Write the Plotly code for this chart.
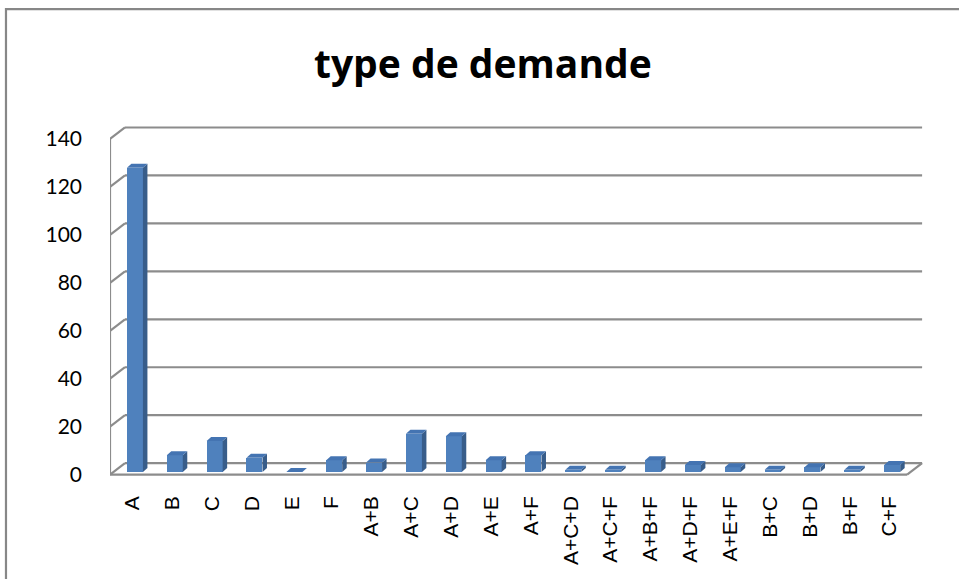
import plotly.graph_objects as go

categories = ["A", "B", "C", "D", "E", "F", "A+B", "A+C", "A+D", "A+E", "A+F",
              "A+C+D", "A+C+F", "A+B+F", "A+D+F", "A+E+F", "B+C", "B+D", "B+F", "C+F"]
values = [127, 7, 13, 6, 0, 5, 4, 16, 15, 5, 7, 1, 1, 5, 3, 2, 1, 2, 1, 3]
y_ticks = [0, 20, 40, 60, 80, 100, 120, 140]

# geometry (pixels)
W, H = 959, 579
L, T = 110, 115
PXX = 39.85          # px per category
PXY = 2.40           # px per unit
XR = [-0.5, 20.2]
YR = [-6, 150]
R = W - (L + (XR[1] - XR[0]) * PXX)
B = H - (T + (YR[1] - YR[0]) * PXY)

# depth offsets in data units
WX, WY = 15 / PXX, 11.5 / PXY      # wall depth
FX, FY = 5 / PXX, 2.5 / PXY        # bar front offset
DX, DY = 4.5 / PXX, 4.0 / PXY      # bar depth
BW = 16 / PXX                      # bar width

FRONT = "#4F81BD"
SIDE = "#385D8A"
TOP = "#4474B2"
GRID = "#8C8C8C"

idx = list(range(len(categories)))

fig = go.Figure()
fig.add_trace(go.Bar(
    x=[i + FX for i in idx], y=values, base=FY, width=BW,
    marker=dict(color=FRONT, line=dict(width=0)),
    hoverinfo="skip", showlegend=False,
))

shapes = []
n = len(categories)
# back wall gridlines + left wall diagonals
for v in y_ticks:
    shapes.append(dict(type="line", xref="x", yref="y", layer="below",
                       x0=-0.5 + WX, y0=v + WY, x1=n - 0.5 + WX, y1=v + WY,
                       line=dict(color=GRID, width=2.2)))
    shapes.append(dict(type="line", xref="x", yref="y", layer="below",
                       x0=-0.5, y0=v, x1=-0.5 + WX, y1=v + WY,
                       line=dict(color=GRID, width=2.2)))
# left front vertical
shapes.append(dict(type="line", xref="x", yref="y", layer="below",
                   x0=-0.5, y0=0, x1=-0.5, y1=y_ticks[-1],
                   line=dict(color=GRID, width=2.2)))
# floor front edge and right diagonal
shapes.append(dict(type="line", xref="x", yref="y", layer="below",
                   x0=-0.5, y0=0, x1=n - 0.5, y1=0,
                   line=dict(color=GRID, width=2.2)))
shapes.append(dict(type="line", xref="x", yref="y", layer="below",
                   x0=n - 0.5, y0=0, x1=n - 0.5 + WX, y1=WY,
                   line=dict(color=GRID, width=2.2)))

# 3D faces of bars
for i, v in zip(idx, values):
    x0 = i + FX - BW / 2
    x1 = i + FX + BW / 2
    yb = FY
    yt = FY + v
    side = (f"M {x1},{yb} L {x1 + DX},{yb + DY} L {x1 + DX},{yt + DY} "
            f"L {x1},{yt} Z")
    top = (f"M {x0},{yt} L {x1},{yt} L {x1 + DX},{yt + DY} "
           f"L {x0 + DX},{yt + DY} Z")
    if v > 0:
        shapes.append(dict(type="path", xref="x", yref="y", path=side,
                           fillcolor=SIDE, line=dict(width=0), layer="above"))
    shapes.append(dict(type="path", xref="x", yref="y", path=top,
                       fillcolor=TOP, line=dict(width=0), layer="above"))

# outer frame of chart (pixel -> paper)
pw = W - L - R
ph = H - T - B
def px_x(p):
    return (p - L) / pw
def px_y(p):
    return 1 - (p - T) / ph
shapes.append(dict(type="path", xref="paper", yref="paper",
                   path=f"M {px_x(6)},{px_y(H + 20)} L {px_x(6)},{px_y(9)} L {px_x(W + 20)},{px_y(9)}",
                   line=dict(color="#878787", width=2.2)))

fig.update_layout(
    width=W, height=H,
    margin=dict(l=L, r=R, t=T, b=B, pad=0),
    paper_bgcolor="white", plot_bgcolor="white",
    bargap=0,
    shapes=shapes,
    xaxis=dict(range=XR, tickmode="array", tickvals=[i + 0.06 for i in idx],
               ticktext=categories, tickangle=-90, showgrid=False, zeroline=False,
               showline=False, ticks="", ticklabelstandoff=2,
               tickfont=dict(family="Liberation Sans", size=21, color="black")),
    yaxis=dict(range=YR, tickmode="array", tickvals=y_ticks,
               ticktext=[str(v) for v in y_ticks], showgrid=False, zeroline=False,
               showline=False, ticks="", ticklabelstandoff=27,
               tickfont=dict(family="Lato", size=21, color="black")),
    annotations=[
        dict(text="<b>type de demande</b>", xref="paper", yref="paper",
             x=px_x(483), y=px_y(62), xanchor="center", yanchor="middle",
             showarrow=False, font=dict(family="Open Sans", size=39, color="black")),
        dict(text="<b>type</b>", xref="paper", yref="paper",
             x=px_x(90), y=px_y(2), xanchor="left", yanchor="bottom",
             showarrow=False, font=dict(family="Liberation Serif", size=20, color="black")),
    ],
)

fig.write_html("out.html", config={"displayModeBar": False},
               post_script="document.body.style.margin='0';document.body.style.overflow='hidden';")
